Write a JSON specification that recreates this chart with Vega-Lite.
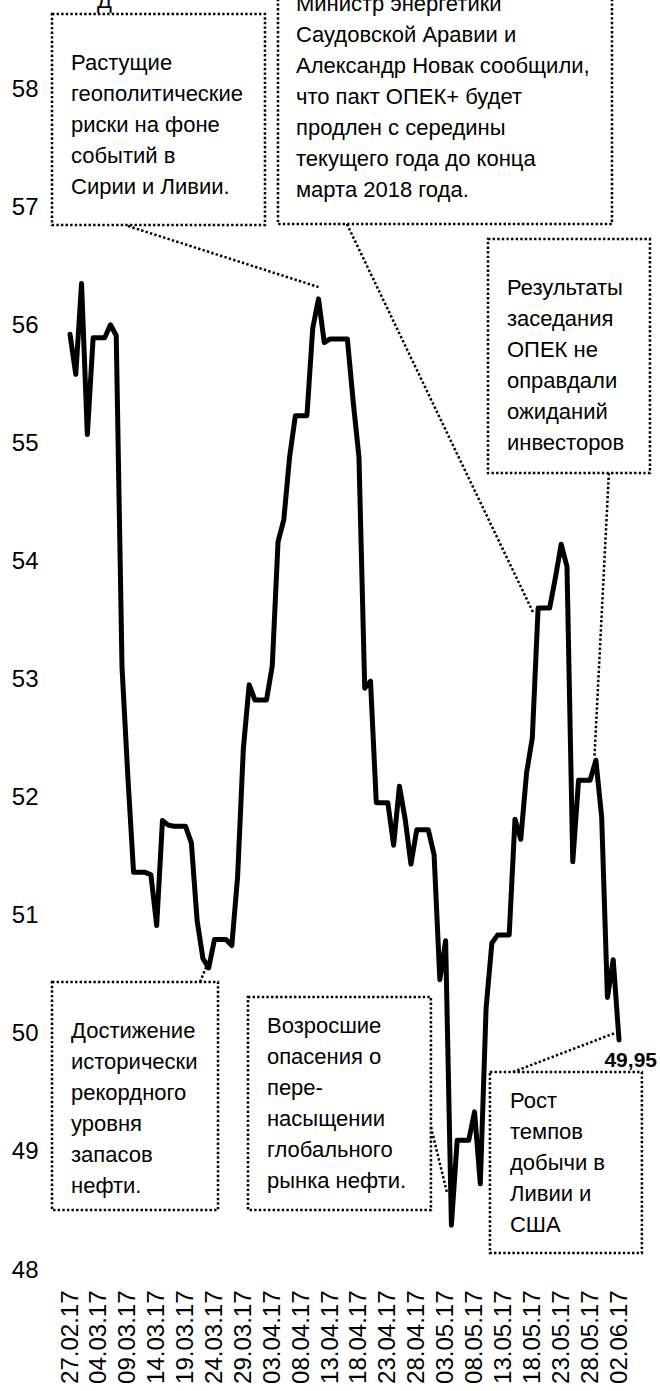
{
  "$schema": "https://vega.github.io/schema/vega-lite/v6.json",
  "autosize": {"type": "none"},
  "width": 549,
  "height": 1270,
  "padding": {"left": 70, "top": 0, "right": 41, "bottom": 121},
  "background": "white",
  "config": {
    "view": {"stroke": null},
    "font": "Liberation Sans, Arial, sans-serif",
    "axisX": {"labelOverlap": false, "labelFlush": false, "labelBound": false},
    "axisY": {"labelOverlap": false, "labelFlush": false},
    "locale": {"number": {"decimal": ",", "thousands": " ", "grouping": [3], "currency": ["", ""]}}
  },
  "datasets": {
    "oil": [
      {"d": "2017-02-27", "v": 55.93}, {"d": "2017-02-28", "v": 55.59}, {"d": "2017-03-01", "v": 56.36},
      {"d": "2017-03-02", "v": 55.08}, {"d": "2017-03-03", "v": 55.90}, {"d": "2017-03-04", "v": 55.90},
      {"d": "2017-03-05", "v": 55.90}, {"d": "2017-03-06", "v": 56.01}, {"d": "2017-03-07", "v": 55.92},
      {"d": "2017-03-08", "v": 53.11}, {"d": "2017-03-09", "v": 52.19}, {"d": "2017-03-10", "v": 51.37},
      {"d": "2017-03-11", "v": 51.37}, {"d": "2017-03-12", "v": 51.37}, {"d": "2017-03-13", "v": 51.35},
      {"d": "2017-03-14", "v": 50.92}, {"d": "2017-03-15", "v": 51.81}, {"d": "2017-03-16", "v": 51.77},
      {"d": "2017-03-17", "v": 51.76}, {"d": "2017-03-18", "v": 51.76}, {"d": "2017-03-19", "v": 51.76},
      {"d": "2017-03-20", "v": 51.62}, {"d": "2017-03-21", "v": 50.96}, {"d": "2017-03-22", "v": 50.64},
      {"d": "2017-03-23", "v": 50.56}, {"d": "2017-03-24", "v": 50.80}, {"d": "2017-03-25", "v": 50.80},
      {"d": "2017-03-26", "v": 50.80}, {"d": "2017-03-27", "v": 50.75}, {"d": "2017-03-28", "v": 51.33},
      {"d": "2017-03-29", "v": 52.42}, {"d": "2017-03-30", "v": 52.96}, {"d": "2017-03-31", "v": 52.83},
      {"d": "2017-04-01", "v": 52.83}, {"d": "2017-04-02", "v": 52.83}, {"d": "2017-04-03", "v": 53.12},
      {"d": "2017-04-04", "v": 54.17}, {"d": "2017-04-05", "v": 54.36}, {"d": "2017-04-06", "v": 54.89},
      {"d": "2017-04-07", "v": 55.24}, {"d": "2017-04-08", "v": 55.24}, {"d": "2017-04-09", "v": 55.24},
      {"d": "2017-04-10", "v": 55.98}, {"d": "2017-04-11", "v": 56.23}, {"d": "2017-04-12", "v": 55.86},
      {"d": "2017-04-13", "v": 55.89}, {"d": "2017-04-14", "v": 55.89}, {"d": "2017-04-15", "v": 55.89},
      {"d": "2017-04-16", "v": 55.89}, {"d": "2017-04-17", "v": 55.36}, {"d": "2017-04-18", "v": 54.89},
      {"d": "2017-04-19", "v": 52.93}, {"d": "2017-04-20", "v": 52.99}, {"d": "2017-04-21", "v": 51.96},
      {"d": "2017-04-22", "v": 51.96}, {"d": "2017-04-23", "v": 51.96}, {"d": "2017-04-24", "v": 51.60},
      {"d": "2017-04-25", "v": 52.10}, {"d": "2017-04-26", "v": 51.82}, {"d": "2017-04-27", "v": 51.44},
      {"d": "2017-04-28", "v": 51.73}, {"d": "2017-04-29", "v": 51.73}, {"d": "2017-04-30", "v": 51.73},
      {"d": "2017-05-01", "v": 51.52}, {"d": "2017-05-02", "v": 50.46}, {"d": "2017-05-03", "v": 50.79},
      {"d": "2017-05-04", "v": 48.38}, {"d": "2017-05-05", "v": 49.10}, {"d": "2017-05-06", "v": 49.10},
      {"d": "2017-05-07", "v": 49.10}, {"d": "2017-05-08", "v": 49.34}, {"d": "2017-05-09", "v": 48.73},
      {"d": "2017-05-10", "v": 50.22}, {"d": "2017-05-11", "v": 50.77}, {"d": "2017-05-12", "v": 50.84},
      {"d": "2017-05-13", "v": 50.84}, {"d": "2017-05-14", "v": 50.84}, {"d": "2017-05-15", "v": 51.82},
      {"d": "2017-05-16", "v": 51.65}, {"d": "2017-05-17", "v": 52.21}, {"d": "2017-05-18", "v": 52.51},
      {"d": "2017-05-19", "v": 53.61}, {"d": "2017-05-20", "v": 53.61}, {"d": "2017-05-21", "v": 53.61},
      {"d": "2017-05-22", "v": 53.87}, {"d": "2017-05-23", "v": 54.15}, {"d": "2017-05-24", "v": 53.96},
      {"d": "2017-05-25", "v": 51.46}, {"d": "2017-05-26", "v": 52.15}, {"d": "2017-05-27", "v": 52.15},
      {"d": "2017-05-28", "v": 52.15}, {"d": "2017-05-29", "v": 52.32}, {"d": "2017-05-30", "v": 51.84},
      {"d": "2017-05-31", "v": 50.31}, {"d": "2017-06-01", "v": 50.63}, {"d": "2017-06-02", "v": 49.95}
    ],
    "boxes": [
      {"id": "A", "x1": "2017-02-23T21:15Z", "x2": "2017-04-01T17:45Z", "y1": 58.644, "y2": 56.856},
      {"id": "B", "x1": "2017-04-03T23:45Z", "x2": "2017-05-31T18:45Z", "y1": 59.1, "y2": 56.864},
      {"id": "C", "x1": "2017-05-10T08:00Z", "x2": "2017-06-07T08:30Z", "y1": 56.737, "y2": 54.754},
      {"id": "D", "x1": "2017-02-23T21:15Z", "x2": "2017-03-24T14:40Z", "y1": 50.441, "y2": 48.508},
      {"id": "E", "x1": "2017-03-29T19:10Z", "x2": "2017-04-30T11:00Z", "y1": 50.314, "y2": 48.508},
      {"id": "F", "x1": "2017-05-10T16:00Z", "x2": "2017-06-05T23:00Z", "y1": 49.678, "y2": 48.144}
    ],
    "links": [
      {"id": "A", "x1": "2017-03-09T01:00Z", "y1": 56.847, "x2": "2017-04-11T00:00Z", "y2": 56.33},
      {"id": "B", "x1": "2017-04-15T22:00Z", "y1": 56.864, "x2": "2017-05-18T02:30Z", "y2": 53.576},
      {"id": "C", "x1": "2017-05-31T06:00Z", "y1": 54.754, "x2": "2017-05-28T18:00Z", "y2": 52.35},
      {"id": "D", "x1": "2017-03-21T12:00Z", "y1": 50.441, "x2": "2017-03-22T17:00Z", "y2": 50.585},
      {"id": "E", "x1": "2017-04-30T11:00Z", "y1": 49.212, "x2": "2017-05-03T05:00Z", "y2": 48.661},
      {"id": "F", "x1": "2017-05-14T15:30Z", "y1": 49.678, "x2": "2017-06-01T07:00Z", "y2": 50.008}
    ],
    "notes": [
      {"id": "T", "x": "2017-03-03T16:00Z", "y": 58.84, "lines": ["Д"]},
      {"id": "A", "x": "2017-02-27T04:10Z", "y": 58.314, "lines": ["Растущие", "геополитические", "риски на фоне", "событий в", "Сирии и Ливии."]},
      {"id": "B", "x": "2017-04-07T02:30Z", "y": 58.814, "lines": ["Министр энергетики", "Саудовской Аравии и", "Александр Новак сообщили,", "что пакт ОПЕК+ будет", "продлен с середины", "текущего года до конца", "марта 2018 года."]},
      {"id": "C", "x": "2017-05-13T14:40Z", "y": 56.408, "lines": ["Результаты", "заседания", "ОПЕК не", "оправдали", "ожиданий", "инвесторов"]},
      {"id": "D", "x": "2017-02-27T04:10Z", "y": 50.111, "lines": ["Достижение", "исторически", "рекордного", "уровня", "запасов", "нефти."]},
      {"id": "E", "x": "2017-04-02T02:00Z", "y": 50.153, "lines": ["Возросшие", "опасения о", "пере-", "насыщении", "глобального", "рынка нефти."]},
      {"id": "F", "x": "2017-05-14T03:10Z", "y": 49.518, "lines": ["Рост", "темпов", "добычи в", "Ливии и", "США"]}
    ]
  },
  "layer": [
    {
      "data": {"name": "boxes"},
      "mark": {"type": "rect", "fill": "transparent", "stroke": "black", "strokeWidth": 2.5, "strokeDash": [2.4, 2.2]},
      "encoding": {
        "x": {"field": "x1", "type": "temporal", "scale": {"type": "utc"}, "title": null},
        "x2": {"field": "x2"},
        "y": {"field": "y1", "type": "quantitative", "title": null},
        "y2": {"field": "y2"}
      }
    },
    {
      "data": {"name": "links"},
      "mark": {"type": "rule", "stroke": "black", "strokeWidth": 2.5, "strokeDash": [2.4, 2.2]},
      "encoding": {
        "x": {"field": "x1", "type": "temporal", "scale": {"type": "utc"}, "title": null},
        "x2": {"field": "x2"},
        "y": {"field": "y1", "type": "quantitative", "title": null},
        "y2": {"field": "y2"}
      }
    },
    {
      "data": {"name": "oil"},
      "mark": {"type": "line", "color": "black", "strokeWidth": 5, "strokeJoin": "round", "strokeCap": "round"},
      "encoding": {
        "x": {
          "field": "d", "type": "temporal", "title": null,
          "scale": {"type": "utc", "domain": [{"year": 2017, "month": 2, "date": 27, "utc": true}, {"year": 2017, "month": 6, "date": 2, "utc": true}]},
          "axis": {
            "format": "%d.%m.%y", "labelAngle": 270, "labelFontSize": 24, "labelColor": "black",
            "labelPadding": 20, "ticks": false, "tickSize": 0, "domain": false, "grid": false, "tickCount": 40,
            "labelFlush": false, "labelOverlap": false, "labelBound": false,
            "values": [
              {"year": 2017, "month": 2, "date": 27, "utc": true}, {"year": 2017, "month": 3, "date": 4, "utc": true},
              {"year": 2017, "month": 3, "date": 9, "utc": true}, {"year": 2017, "month": 3, "date": 14, "utc": true},
              {"year": 2017, "month": 3, "date": 19, "utc": true}, {"year": 2017, "month": 3, "date": 24, "utc": true},
              {"year": 2017, "month": 3, "date": 29, "utc": true}, {"year": 2017, "month": 4, "date": 3, "utc": true},
              {"year": 2017, "month": 4, "date": 8, "utc": true}, {"year": 2017, "month": 4, "date": 13, "utc": true},
              {"year": 2017, "month": 4, "date": 18, "utc": true}, {"year": 2017, "month": 4, "date": 23, "utc": true},
              {"year": 2017, "month": 4, "date": 28, "utc": true}, {"year": 2017, "month": 5, "date": 3, "utc": true},
              {"year": 2017, "month": 5, "date": 8, "utc": true}, {"year": 2017, "month": 5, "date": 13, "utc": true},
              {"year": 2017, "month": 5, "date": 18, "utc": true}, {"year": 2017, "month": 5, "date": 23, "utc": true},
              {"year": 2017, "month": 5, "date": 28, "utc": true}, {"year": 2017, "month": 6, "date": 2, "utc": true}
            ]
          }
        },
        "y": {
          "field": "v", "type": "quantitative", "title": null,
          "scale": {"domain": [48, 58.7627], "nice": false, "zero": false},
          "axis": {
            "values": [48, 49, 50, 51, 52, 53, 54, 55, 56, 57, 58], "format": "d", "tickCount": 40,
            "labelFontSize": 24, "labelColor": "black", "labelPadding": 32,
            "ticks": false, "tickSize": 0, "domain": false, "grid": false, "labelFlush": false, "labelOverlap": false
          }
        }
      }
    },
    {
      "data": {"name": "oil"},
      "transform": [{"filter": "datum.v === 49.95"}],
      "mark": {"type": "text", "align": "right", "baseline": "middle", "dx": 38, "dy": 21, "fontSize": 21, "fontWeight": "bold", "color": "black"},
      "encoding": {
        "x": {"field": "d", "type": "temporal", "scale": {"type": "utc"}, "title": null},
        "y": {"field": "v", "type": "quantitative", "title": null},
        "text": {"field": "v", "type": "quantitative", "format": ".2f"}
      }
    },
    {
      "data": {"name": "notes"},
      "mark": {"type": "text", "align": "left", "baseline": "top", "fontSize": 22, "lineHeight": 31, "color": "black"},
      "encoding": {
        "x": {"field": "x", "type": "temporal", "scale": {"type": "utc"}, "title": null},
        "y": {"field": "y", "type": "quantitative", "title": null},
        "text": {"field": "lines"}
      }
    }
  ]
}
